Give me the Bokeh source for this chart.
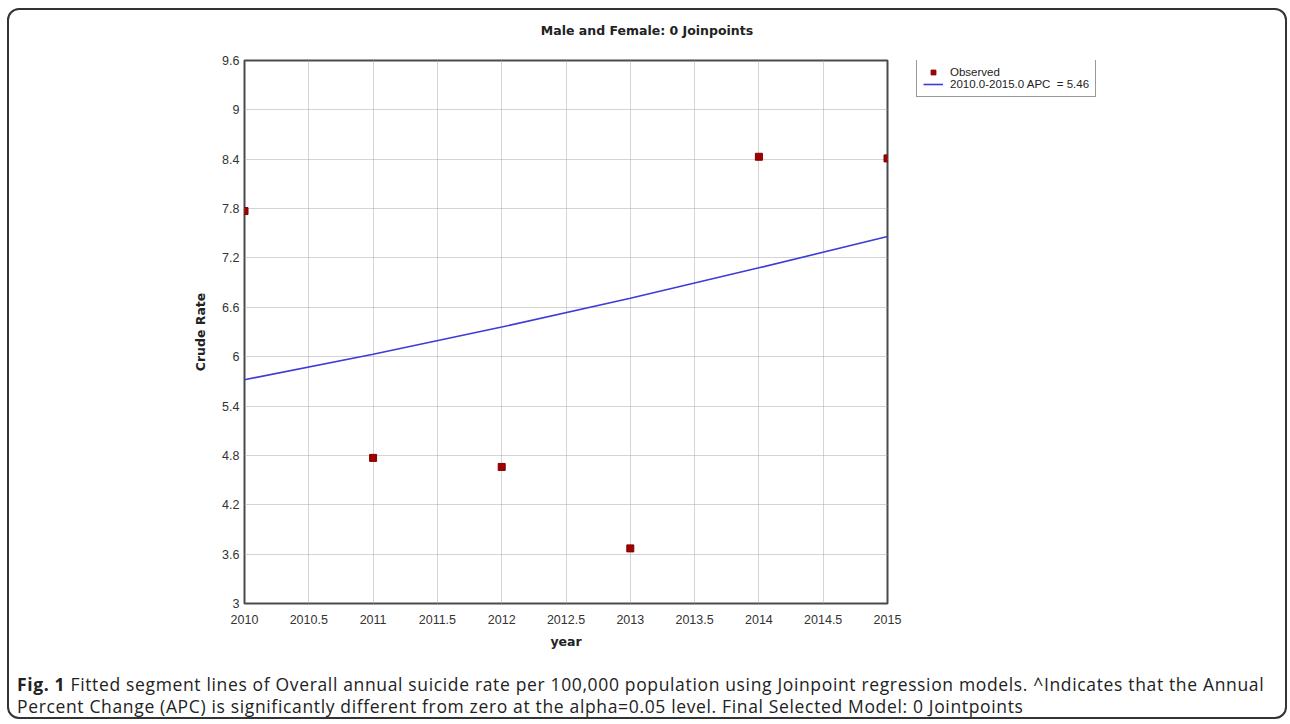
from bokeh.plotting import figure
from bokeh.models import Div, Legend, LegendItem, FixedTicker
from bokeh.layouts import column, row
from bokeh.embed import file_html
from bokeh.resources import INLINE

# ---- data ----
years = [2010, 2011, 2012, 2013, 2014, 2015]
observed = [7.77, 4.77, 4.66, 3.67, 8.43, 8.41]
fitted = [5.72, 6.03, 6.36, 6.71, 7.08, 7.46]
x_ticks = [2010, 2010.5, 2011, 2011.5, 2012, 2012.5, 2013, 2013.5, 2014, 2014.5, 2015]
x_tick_labels = ["2010", "2010.5", "2011", "2011.5", "2012", "2012.5",
                 "2013", "2013.5", "2014", "2014.5", "2015"]
y_ticks = [3, 3.6, 4.2, 4.8, 5.4, 6, 6.6, 7.2, 7.8, 8.4, 9, 9.6]
y_tick_labels = ["3", "3.6", "4.2", "4.8", "5.4", "6", "6.6", "7.2", "7.8", "8.4", "9", "9.6"]
title_text = "Male and Female: 0 Joinpoints"
legend_labels = ["Observed", "2010.0-2015.0 APC  = 5.46"]
caption_bold = "Fig. 1"
caption_line1 = (" Fitted segment lines of Overall annual suicide rate per 100,000 population using "
                 "Joinpoint regression models. ^Indicates that the Annual")
caption_line2 = ("Percent Change (APC) is significantly different from zero at the alpha=0.05 level. "
                 "Final Selected Model: 0 Jointpoints")

LINE_COLOR = "#3c3cd8"
SQ_FILL = "#a00000"
SQ_LINE = "#800000"

title_div = Div(text=title_text, width=1276, height=30, margin=0,
                styles={"font-family": "'DejaVu Sans'", "font-weight": "bold", "font-size": "12.5px",
                        "line-height": "42px", "text-align": "center", "color": "#222",
                        "white-space": "nowrap", "width": "1276px"})

p = figure(width=898, height=610, frame_width=643, frame_height=543,
           output_backend="svg", toolbar_location=None,
           x_range=(2010, 2015), y_range=(3, 9.6), title=None,
           min_border_left=235, min_border_right=20, min_border_top=20, min_border_bottom=47)

p.outline_line_color = "#4a4a4a"
p.outline_line_width = 2
p.background_fill_color = "white"
p.border_fill_color = "white"

for ax in (p.xaxis[0], p.yaxis[0]):
    ax.axis_line_color = None
    ax.major_tick_line_color = None
    ax.minor_tick_line_color = None
    ax.major_tick_out = 0
    ax.major_tick_in = 0
    ax.major_label_text_font = "Liberation Sans"
    ax.major_label_text_font_size = "12.5px"
    ax.major_label_text_color = "#333333"
    ax.axis_label_text_font = "DejaVu Sans"
    ax.axis_label_text_font_style = "bold"
    ax.axis_label_text_font_size = "12.5px"
    ax.axis_label_text_color = "#222222"

p.xaxis.ticker = FixedTicker(ticks=x_ticks)
p.xaxis.major_label_overrides = dict(zip(x_ticks, x_tick_labels))
p.yaxis.ticker = FixedTicker(ticks=y_ticks)
p.yaxis.major_label_overrides = dict(zip(y_ticks, y_tick_labels))
p.xaxis.axis_label = "year"
p.yaxis.axis_label = "Crude Rate"
p.xaxis.major_label_standoff = 11
p.yaxis.major_label_standoff = 5
p.xaxis.axis_label_standoff = 7
p.yaxis.axis_label_standoff = 11

p.xgrid.grid_line_color = "#a8a8a8"
p.ygrid.grid_line_color = "#a8a8a8"
p.xgrid.grid_line_dash = "1 1"
p.ygrid.grid_line_dash = "1 1"
p.xgrid.grid_line_width = 1
p.ygrid.grid_line_width = 1

p.line(years, fitted, line_color=LINE_COLOR, line_width=1.6)
p.scatter(years, observed, marker="square", size=7, fill_color=SQ_FILL, line_color=SQ_LINE)

# legend lives in its own small figure to the right of the chart
# (its renderers hold the same series but lie outside its (0,1) ranges, so only the legend shows)
lf = figure(width=378, height=610, output_backend="svg", toolbar_location=None,
            x_range=(0, 1), y_range=(0, 1), title=None,
            x_axis_location=None, y_axis_location=None,
            min_border_left=0, min_border_right=0, min_border_top=0, min_border_bottom=0)
lf.grid.visible = False
lf.outline_line_color = None
lf.background_fill_color = "white"
lf.border_fill_color = "white"
lsq = lf.scatter(years, observed, marker="square", size=7, fill_color=SQ_FILL, line_color=SQ_LINE)
lln = lf.line(years, fitted, line_color=LINE_COLOR, line_width=1.6)

legend = Legend(items=[LegendItem(label=legend_labels[0], renderers=[lsq]),
                       LegendItem(label=legend_labels[1], renderers=[lln])],
                location=(9, 505))
legend.label_text_font = "Liberation Sans"
legend.label_text_font_size = "11.5px"
legend.label_text_color = "#222222"
legend.label_height = 12
legend.glyph_height = 12
legend.glyph_width = 20
legend.spacing = 0
legend.padding = 6
legend.label_standoff = 7
legend.border_line_color = "#333333"
legend.border_line_width = 1
legend.background_fill_alpha = 1
legend.margin = 0
lf.add_layout(legend, "center")

caption = Div(text=('<div style="padding-top:22px;padding-left:8px;">'
                    "<b>" + caption_bold + "</b>" + caption_line1 + "<br>" + caption_line2 + "</div>"),
              width=1276, height=66, margin=0,
              styles={"font-family": "'Open Sans'", "font-size": "17.5px", "line-height": "22px",
                      "letter-spacing": "0.65px", "white-space": "nowrap", "color": "#222"})

lay = column(title_div, row(p, lf), caption,
             styles={"border": "2px solid #333", "border-radius": "12px",
                     "background": "white", "margin-left": "7px", "margin-top": "8px"})

open("out.html", "w").write(file_html(lay, INLINE))
